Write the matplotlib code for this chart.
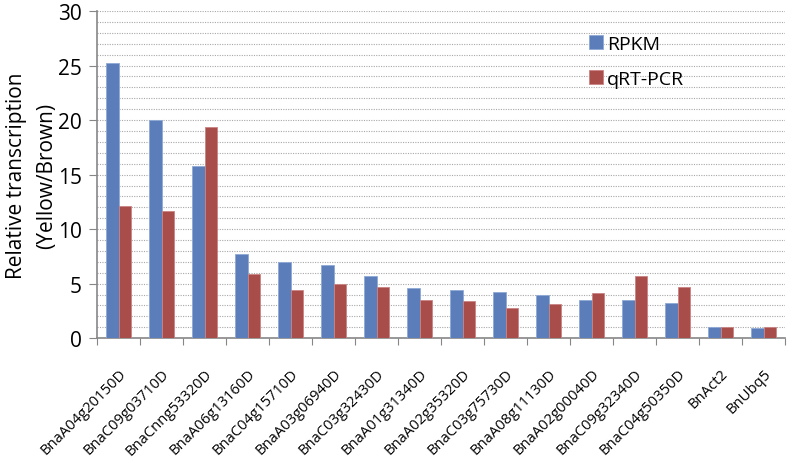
import numpy as np
import matplotlib.pyplot as plt
from matplotlib.ticker import MultipleLocator

# --- DATA ---
genes = ['BnaA04g20150D', 'BnaC09g03710D', 'BnaCnng53320D', 'BnaA06g13160D',
         'BnaC04g15710D', 'BnaA03g06940D', 'BnaC03g32430D', 'BnaA01g31340D',
         'BnaA02g35320D', 'BnaC03g75730D', 'BnaA08g11130D', 'BnaA02g00040D',
         'BnaC09g32340D', 'BnaC04g50350D', 'BnAct2', 'BnUbq5']
rpkm = [25.2, 20.0, 15.8, 7.7, 7.0, 6.7, 5.7, 4.6, 4.4, 4.2, 4.0, 3.5, 3.5, 3.2, 1.0, 0.9]
qrtpcr = [12.1, 11.7, 19.4, 5.9, 4.4, 5.0, 4.7, 3.5, 3.4, 2.8, 3.1, 4.1, 5.7, 4.7, 1.0, 1.0]

BLUE = '#5B7DBA'
RED = '#A94D4B'
GRAY = '#868686'

plt.rcParams['font.family'] = ['Open Sans', 'DejaVu Sans']

fig = plt.figure(figsize=(7.89, 4.64), dpi=100)
ax = fig.add_axes([0.123, 0.269, 0.872, 0.705])

x = np.arange(len(genes))
w = 0.29
ax.bar(x - w / 2, rpkm, w, color=BLUE, edgecolor='#8FA9D6', linewidth=0.6,
       label='RPKM', zorder=3)
ax.bar(x + w / 2, qrtpcr, w, color=RED, edgecolor='#C98483', linewidth=0.6,
       label='qRT-PCR', zorder=3)

ax.set_xlim(-0.5, len(genes) - 0.5)
ax.set_ylim(0, 30)

# dotted gridlines at every unit
ax.yaxis.set_major_locator(MultipleLocator(5))
ax.yaxis.set_minor_locator(MultipleLocator(1))
ax.grid(axis='y', which='both', linestyle=(0, (1, 1.2)), color='#A8A8A8', linewidth=0.8, zorder=0)
ax.tick_params(axis='y', which='minor', length=0)
ax.tick_params(axis='y', which='major', labelsize=15, color=GRAY, length=6, pad=5)

# x ticks between categories, labels at centers
ax.set_xticks(np.arange(-0.5, len(genes), 1.0))
ax.set_xticklabels([])
ax.set_xticks(x, minor=True)
ax.set_xticklabels(genes, minor=True, rotation=45, ha='right', rotation_mode='anchor',
                   fontsize=10.6)
ax.tick_params(axis='x', which='major', color=GRAY, length=5, direction='out')
ax.tick_params(axis='x', which='minor', length=0, pad=20)

for s in ['top', 'right']:
    ax.spines[s].set_visible(False)
for s in ['left', 'bottom']:
    ax.spines[s].set_color(GRAY)
    ax.spines[s].set_linewidth(1.2)

ax.set_ylabel('Relative transcription\n(Yellow/Brown)', fontsize=15, linespacing=1.6)
ax.yaxis.set_label_coords(-0.058, 0.5)

ax.legend(loc='upper left', bbox_to_anchor=(0.69, 0.98), frameon=False, fontsize=14,
          handlelength=0.7, handleheight=0.7, handletextpad=0.2, labelspacing=0.85)

fig.savefig('out.png', dpi=100)
